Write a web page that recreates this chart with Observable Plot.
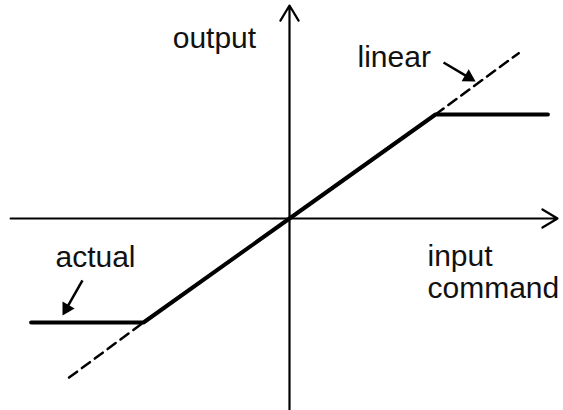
<!DOCTYPE html>
<html>
<head>
<meta charset="utf-8">
<script src="https://cdn.jsdelivr.net/npm/d3@7"></script>
<script src="https://cdn.jsdelivr.net/npm/@observablehq/plot@0.6"></script>
<style>
  html, body { margin: 0; padding: 0; background: #fff; }
  svg { display: block; }
</style>
</head>
<body>
<div id="chart"></div>
<script>
// Saturation characteristic (data units: saturation at input ±1, output ±1)
const actualInput  = [-1.77, -1, 0, 1, 1.77];
const actualOutput = [-1, -1, 0, 1, 1];

const linearLowInput  = [-1.51, -1];
const linearLowOutput = [-1.53, -1];
const linearHighInput  = [1, 1.57];
const linearHighOutput = [1, 1.59];

// axes (start -> arrow tip)
const axisX1 = [-1.91, 0];
const axisY1 = [0, -1.85];
const axisX2 = [1.836, 0];
const axisY2 = [0, 2.048];

// label texts and baseline positions
const labels  = ["output", "linear", "input", "command", "actual"];
const labelX  = [-0.80, 0.466, 0.945, 0.945, -1.603];
const labelY  = [1.635, 1.452, -0.452, -0.76, -0.462];

// pointer arrows: shaft start, head position, head rotation
const ptrX1 = [-1.418, 1.055];
const ptrY1 = [-0.596, 1.50];
const ptrX2 = [-1.527, 1.227];
const ptrY2 = [-0.865, 1.357];
const ptrRotate = [209.7, 120.7];

const idx = (a) => a.map((_, i) => i);

const chart = Plot.plot({
  width: 563,
  height: 410,
  margin: 0,
  x: { domain: [-1, 1], range: [143, 435], axis: null },
  y: { domain: [-1, 1], range: [322, 114], axis: null },
  style: { background: "#fff" },
  marks: [
    Plot.arrow(idx(axisX1), {
      x1: (i) => axisX1[i], y1: (i) => axisY1[i],
      x2: (i) => axisX2[i], y2: (i) => axisY2[i],
      stroke: "#000", strokeWidth: 2.2, headLength: 12, headAngle: 62
    }),
    Plot.line(idx(linearLowInput), {
      x: (i) => linearLowInput[i], y: (i) => linearLowOutput[i],
      stroke: "#000", strokeWidth: 2.5, strokeDasharray: "10,6", curve: "linear"
    }),
    Plot.line(idx(linearHighInput), {
      x: (i) => linearHighInput[i], y: (i) => linearHighOutput[i],
      stroke: "#000", strokeWidth: 2.5, strokeDasharray: "10,6", curve: "linear"
    }),
    Plot.line(idx(actualInput), {
      x: (i) => actualInput[i], y: (i) => actualOutput[i],
      stroke: "#000", strokeWidth: 4, strokeLinejoin: "miter", curve: "linear"
    }),
    Plot.link(idx(ptrX1), {
      x1: (i) => ptrX1[i], y1: (i) => ptrY1[i],
      x2: (i) => ptrX2[i], y2: (i) => ptrY2[i],
      stroke: "#000", strokeWidth: 2.5
    }),
    Plot.dot(idx(ptrX2), {
      x: (i) => ptrX2[i], y: (i) => ptrY2[i],
      rotate: (i) => ptrRotate[i],
      symbol: "triangle", r: 5.2, fill: "#000", stroke: "none"
    }),
    Plot.text(idx(labels), {
      x: (i) => labelX[i], y: (i) => labelY[i], text: (i) => labels[i],
      textAnchor: "start", lineAnchor: "bottom",
      fontSize: 30, fontFamily: "Liberation Sans, Arial, sans-serif", fill: "#111"
    })
  ]
});
document.getElementById("chart").appendChild(chart);
</script>
</body>
</html>
